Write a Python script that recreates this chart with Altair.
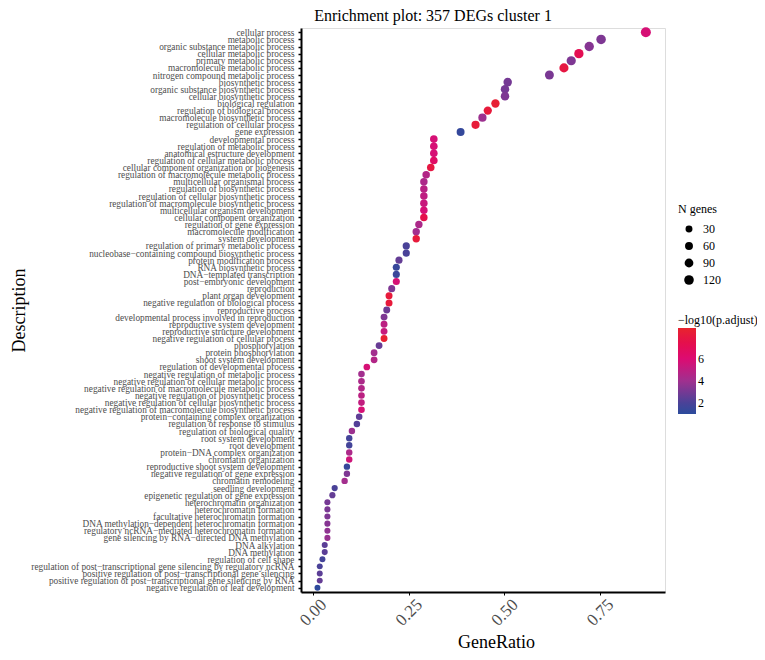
import altair as alt
import pandas as pd

descriptions = [
    "cellular process", "metabolic process", "organic substance metabolic process",
    "cellular metabolic process", "primary metabolic process", "macromolecule metabolic process",
    "nitrogen compound metabolic process", "biosynthetic process", "organic substance biosynthetic process",
    "cellular biosynthetic process", "biological regulation", "regulation of biological process",
    "macromolecule biosynthetic process", "regulation of cellular process", "gene expression",
    "developmental process", "regulation of metabolic process", "anatomical estructure development",
    "regulation of cellular metabolic process", "cellular component organization or biogenesis",
    "regulation of macromolecule metabolic process", "multicellular organismal process",
    "regulation of biosynthetic process", "regulation of cellular biosynthetic process",
    "regulation of macromolecule biosynthetic process", "multicellular organism development",
    "cellular component organization", "regulation of gene expression", "macromolecule modification",
    "system development", "regulation of primary metabolic process",
    "nucleobase\u2212containing compound biosynthetic process", "protein modification process",
    "RNA biosynthetic process", "DNA\u2212templated transcription", "post\u2212embryonic development",
    "reproduction", "plant organ development", "negative regulation of biological process",
    "reproductive process", "developmental process involved in reproduction",
    "reproductive system development", "reproductive structure development",
    "negative regulation of cellular process", "phosphorylation", "protein phosphorylation",
    "shoot system development", "regulation of developmental process",
    "negative regulation of metabolic process", "negative regulation of cellular metabolic process",
    "negative regulation of macromolecule metabolic process", "negative regulation of biosynthetic process",
    "negative regulation of cellular biosynthetic process",
    "negative regulation of macromolecule biosynthetic process",
    "protein\u2212containing complex organization", "regulation of response to stimulus",
    "regulation of biological quality", "root system development", "root development",
    "protein\u2212DNA complex organization", "chromatin organization",
    "reproductive shoot system development", "negative regulation of gene expression",
    "chromatin remodeling", "seedling development", "epigenetic regulation of gene expression",
    "heterochromatin organization", "heterochromatin formation", "facultative heterochromatin formation",
    "DNA methylation\u2212dependent heterochromatin formation",
    "regulatory ncRNA\u2212mediated heterochromatin formation",
    "gene silencing by RNA\u2212directed DNA methylation", "DNA alkylation", "DNA methylation",
    "regulation of cell shape",
    "regulation of post\u2212transcriptional gene silencing by regulatory ncRNA",
    "positive regulation of post\u2212transcriptional gene silencing",
    "positive regulation of post\u2212transcriptional gene silencing by RNA",
    "negative regulation of leaf development",
]

gene_ratio = [
    0.870, 0.753, 0.722, 0.695, 0.675, 0.656, 0.618, 0.509, 0.502, 0.502,
    0.477, 0.457, 0.443, 0.425, 0.386, 0.316, 0.316, 0.316, 0.316, 0.308,
    0.296, 0.290, 0.290, 0.290, 0.290, 0.290, 0.290, 0.277, 0.270, 0.270,
    0.244, 0.244, 0.225, 0.218, 0.218, 0.218, 0.206, 0.199, 0.199, 0.193,
    0.186, 0.186, 0.186, 0.186, 0.173, 0.160, 0.160, 0.141, 0.127, 0.127,
    0.127, 0.127, 0.127, 0.127, 0.121, 0.115, 0.102, 0.095, 0.095, 0.095,
    0.095, 0.089, 0.089, 0.083, 0.057, 0.051, 0.038, 0.038, 0.038, 0.038,
    0.038, 0.038, 0.031, 0.031, 0.025, 0.018, 0.018, 0.018, 0.012,
]

n_genes = [
    137, 118, 113, 109, 106, 103, 97, 80, 79, 79,
    75, 72, 70, 67, 61, 50, 50, 50, 50, 48,
    46, 45, 45, 45, 45, 45, 45, 43, 42, 42,
    38, 38, 35, 34, 34, 34, 32, 31, 31, 30,
    29, 29, 29, 29, 27, 25, 25, 22, 20, 20,
    20, 20, 20, 20, 19, 18, 16, 15, 15, 15,
    15, 14, 14, 13, 9, 8, 6, 6, 6, 6,
    6, 6, 5, 5, 4, 3, 3, 3, 2,
]

neg_log_padj = [
    5.8, 3.2, 3.4, 7.2, 3.2, 7.9, 3.1, 3.0, 3.0, 3.2,
    8.5, 8.2, 3.9, 8.3, 1.3, 5.8, 5.8, 5.8, 6.5, 7.9,
    4.6, 4.4, 4.8, 5.0, 5.3, 5.8, 7.5, 4.4, 4.1, 8.2,
    2.0, 2.0, 2.6, 1.4, 1.5, 5.8, 3.2, 8.2, 8.2, 2.8,
    3.2, 4.9, 5.3, 8.6, 2.7, 4.1, 4.6, 5.8, 4.1, 4.4,
    4.6, 4.9, 5.1, 5.8, 2.5, 2.2, 3.9, 1.8, 1.8, 4.4,
    5.5, 1.4, 3.2, 4.1, 2.0, 2.6, 3.0, 3.1, 3.2, 3.4,
    3.6, 3.8, 2.4, 2.4, 1.8, 2.0, 2.4, 2.6, 1.1,
]

size_legend_values = [30, 60, 90, 120]
x_ticks = [0.0, 0.25, 0.5, 0.75]
color_stops = [1.0, 2.0, 4.0, 6.0, 7.3, 8.8]
color_range = ["#2B4B9C", "#4A4298", "#A0308F", "#DC0C72", "#E50D50", "#E8232D"]

df = pd.DataFrame({
    "Description": descriptions,
    "GeneRatio": gene_ratio,
    "N genes": n_genes,
    "padj": neg_log_padj,
})

FONT = "Liberation Serif"

chart = alt.Chart(df).mark_circle(opacity=1).encode(
    x=alt.X("GeneRatio:Q",
            scale=alt.Scale(domain=[-0.031, 0.92], nice=False, zero=False),
            axis=alt.Axis(values=x_ticks, format=".2f", title="GeneRatio",
                          labelAngle=-45, labelAlign="right", labelBaseline="top",
                          labelFontSize=17, labelColor="#4D4D4D", labelFont=FONT,
                          labelPadding=1, labelOffset=5,
                          titleFontSize=18, titleFont=FONT, titleFontWeight="normal",
                          titleColor="black", titleY=50, titleX=195, titleBaseline="middle",
                          domainColor="black", domainWidth=2, tickColor="black",
                          tickWidth=1, tickSize=3, grid=False)),
    y=alt.Y("Description:N", sort=descriptions,
            scale=alt.Scale(type="point", padding=0.6),
            axis=alt.Axis(title="Description", labelFontSize=9.3, labelColor="#4D4D4D",
                          labelFont=FONT, labelLimit=400, labelPadding=4,
                          titleFontSize=18, titleFont=FONT, titleFontWeight="normal",
                          titleColor="black", titleX=-282, titleBaseline="middle",
                          titleAngle=-90, titleAlign="center",
                          domainColor="black", domainWidth=2, tickColor="black",
                          tickWidth=1.5, tickSize=3, grid=False)),
    size=alt.Size("N genes:Q",
                  scale=alt.Scale(domain=[2, 137], range=[35, 100]),
                  legend=alt.Legend(values=size_legend_values, title="N genes",
                                    orient="none", legendX=377, legendY=176,
                                    symbolFillColor="black", symbolStrokeWidth=0,
                                    symbolType="circle", rowPadding=5, symbolOffset=5,
                                    labelOffset=8, titlePadding=7,
                                    titleFont=FONT, titleFontSize=12, titleFontWeight="normal",
                                    labelFont=FONT, labelFontSize=12, titleColor="black",
                                    labelColor="black")),
    color=alt.Color("padj:Q",
                    scale=alt.Scale(domain=color_stops, range=color_range,
                                    interpolate="rgb"),
                    legend=alt.Legend(title="\u2212log10(p.adjust)", orient="none",
                                      legendX=377, legendY=287, values=[2, 4, 6],
                                      gradientLength=86, gradientThickness=18,
                                      titlePadding=1,
                                      titleFont=FONT, titleFontSize=12,
                                      titleFontWeight="normal", titleColor="black",
                                      labelFont=FONT, labelFontSize=12, labelColor="black",
                                      titleLimit=200)),
).properties(
    width=364,
    height=564,
    title=alt.TitleParams("Enrichment plot: 357 DEGs cluster 1", font=FONT, fontSize=16,
                          fontWeight="normal", color="black", anchor="middle", dx=-50,
                          offset=3),
    autosize=alt.AutoSizeParams(type="none"),
    padding={"left": 293, "top": 20, "right": 92, "bottom": 60},
).configure_view(stroke=None).configure(background="white")

chart.save("out.html", embed_options={"renderer": "svg", "actions": False})
